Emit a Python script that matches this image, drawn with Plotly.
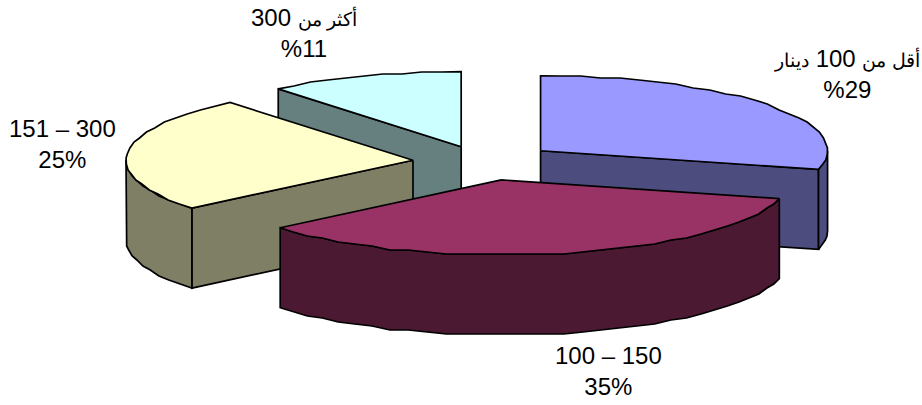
import math
import re
import plotly.graph_objects as go

# Slices run clockwise from twelve o'clock
categories = ["أقل من 100 دينار", "100 – 150", "151 – 300", "أكثر من 300"]
shares = [29, 35, 25, 11]
percent_labels = ["%29", "35%", "25%", "%11"]
top_colors = ["#9999FF", "#993366", "#FFFFCC", "#CCFFFF"]
wall_colors = ["#4C4C7F", "#4C1933", "#7F7F66", "#667F7F"]

# Projection of the tilted disc
CX, CY = 486, 163
RX, RY = 287, 75
DEPTH = 80
EXPLODE = 0.245
ARC_STEP = 4.0
SNAP_Y = 2.0  # slightly stepped rim outline, as low-resolution 3D pies draw it
apex_nudge = [(-1, -1), (0, -1), (-3, -1), (-1, 1)]

label_xy = [(847, 74), (608, 371), (62, 144), (304, 33)]
LABEL_SIZE = 24
ARABIC_SIZE = 19


def rim(c, deg):
    a = math.radians(deg)
    return c[0] + RX * math.sin(a), c[1] - RY * math.cos(a)


def arc(c, a0, a1):
    n = max(1, round(abs(a1 - a0) / ARC_STEP))
    pts = [rim(c, a0 + (a1 - a0) * i / n) for i in range(n + 1)]
    inner = [(x, round(y / SNAP_Y) * SNAP_Y) for x, y in pts[1:-1]]
    return [pts[0]] + inner + [pts[-1]]


def shifted(points, dy):
    return [(x, y + dy) for x, y in points]


def polygon(points, color):
    xs = [p[0] for p in points] + [points[0][0]]
    ys = [p[1] for p in points] + [points[0][1]]
    return go.Scatter(x=xs, y=ys, mode="lines", fill="toself", fillcolor=color,
                      line=dict(color="black", width=1.7), hoverinfo="skip",
                      showlegend=False)


def label_html(name, pct):
    # Arabic words sit a little smaller than the digits beside them
    small = re.sub(r"([\u0600-\u06FF]+(?: [\u0600-\u06FF]+)*)",
                   rf"<span style='font-size:{ARABIC_SIZE}px'>\1</span>", name)
    return f"{small}<br>{pct}"


# Angular span and exploded apex of each slice
total = sum(shares)
spans, apexes = [], []
start = 0.0
for v, (nx, ny) in zip(shares, apex_nudge):
    end = start + 360.0 * v / total
    mid = math.radians((start + end) / 2)
    spans.append((start, end))
    apexes.append((CX + EXPLODE * RX * math.sin(mid) + nx,
                   CY - EXPLODE * RY * math.cos(mid) + ny))
    start = end

fig = go.Figure()

# Back to front: last slice, third slice, first slice, then the front slice
for i in (3, 2, 0, 1):
    a0, a1 = spans[i]
    apex = apexes[i]
    # Radial cut faces that turn towards the viewer
    if 180 < a0 < 360:
        edge = [apex, rim(apex, a0)]
        fig.add_trace(polygon(edge + shifted(edge[::-1], DEPTH), wall_colors[i]))
    if 0 < a1 < 180:
        edge = [apex, rim(apex, a1)]
        fig.add_trace(polygon(edge + shifted(edge[::-1], DEPTH), wall_colors[i]))
    # Outer wall on the front half of the rim
    w0, w1 = max(a0, 90), min(a1, 270)
    if w0 < w1:
        curve = arc(apex, w0, w1)
        fig.add_trace(polygon(curve + shifted(curve[::-1], DEPTH), wall_colors[i]))
    # Top face
    fig.add_trace(polygon([apex] + arc(apex, a0, a1), top_colors[i]))

for name, pct, (x, y) in zip(categories, percent_labels, label_xy):
    fig.add_annotation(x=x, y=y, xref="x", yref="y", text=label_html(name, pct),
                       showarrow=False, align="center",
                       font=dict(family="Liberation Sans, Arial, sans-serif",
                                 size=LABEL_SIZE, color="black"))

fig.update_xaxes(range=[0, 922], visible=False, fixedrange=True)
fig.update_yaxes(range=[405, 0], visible=False, fixedrange=True)
fig.update_layout(width=922, height=405, margin=dict(l=0, r=0, t=0, b=0),
                  paper_bgcolor="white", plot_bgcolor="white")
fig.write_html("out.html", config={"displayModeBar": False})
